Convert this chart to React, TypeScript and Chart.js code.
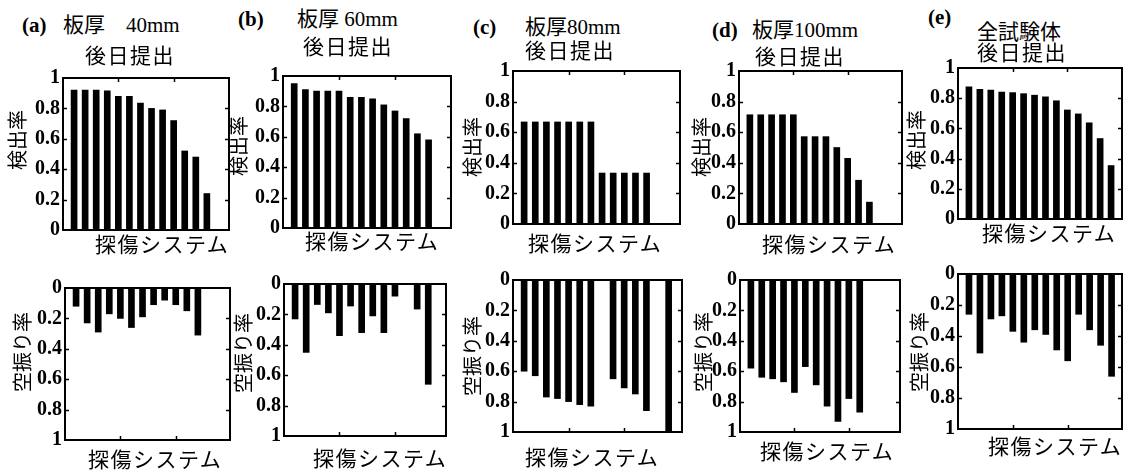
import React, { useEffect, useRef } from 'react';
import { Chart, registerables } from 'chart.js';
Chart.register(...registerables);

// ---- data ----
const Y_TICKS = [0, 0.2, 0.4, 0.6, 0.8, 1];
const X_TICKS = [5, 10];

const detA = [0.92, 0.92, 0.92, 0.915, 0.88, 0.88, 0.835, 0.8, 0.79, 0.72, 0.52, 0.48, 0.24];
const detB = [0.95, 0.91, 0.9, 0.9, 0.9, 0.86, 0.86, 0.85, 0.81, 0.77, 0.72, 0.62, 0.58];
const detC = [0.667, 0.667, 0.667, 0.667, 0.667, 0.667, 0.667, 0.333, 0.333, 0.333, 0.333, 0.333];
const detD = [0.714, 0.714, 0.714, 0.714, 0.714, 0.571, 0.571, 0.571, 0.5, 0.429, 0.286, 0.143];
const detE = [0.876, 0.859, 0.854, 0.841, 0.837, 0.83, 0.82, 0.809, 0.783, 0.722, 0.696, 0.637, 0.533, 0.354];

const faA = [0.12, 0.23, 0.29, 0.17, 0.2, 0.26, 0.19, 0.11, 0.08, 0.11, 0.15, 0.31];
const faB = [0.23, 0.45, 0.135, 0.19, 0.34, 0.145, 0.32, 0.21, 0.32, 0.08, 0, 0.165, 0.66];
const faC = [0.6, 0.63, 0.77, 0.78, 0.8, 0.82, 0.83, 0, 0.65, 0.71, 0.75, 0.86, 0, 1.0];
const faD = [0.58, 0.64, 0.65, 0.67, 0.74, 0.57, 0.69, 0.83, 0.93, 0.78, 0.87];
const faE = [0.26, 0.51, 0.29, 0.27, 0.37, 0.44, 0.36, 0.39, 0.49, 0.56, 0.26, 0.36, 0.46, 0.66];

const panelLetters = ['(a)', '(b)', '(c)', '(d)', '(e)'];
const panelTitles = ['板厚　40mm', '板厚 60mm', '板厚80mm', '板厚100mm', '全試験体'];
const subTitle = '後日提出';
const xTitle = '探傷システム';
const yTitleTop = '検出率';
const yTitleBottom = '空振り率';

// ---- layout ----
type Box = { l: number; r: number; t: number; b: number; xMax: number };
const topBoxes: Box[] = [
  { l: 63, r: 229, t: 77, b: 231, xMax: 15 },
  { l: 283, r: 451, t: 75, b: 229, xMax: 15 },
  { l: 513, r: 680, t: 70, b: 225, xMax: 15 },
  { l: 739, r: 902, t: 70, b: 225, xMax: 15 },
  { l: 958, r: 1122, t: 67, b: 220, xMax: 15 },
];
const bottomBoxes: Box[] = [
  { l: 65, r: 230, t: 287, b: 441, xMax: 14.9 },
  { l: 284, r: 446, t: 283, b: 437, xMax: 14.6 },
  { l: 513, r: 682, t: 279, b: 433, xMax: 15.2 },
  { l: 740, r: 900, t: 279, b: 433, xMax: 14.7 },
  { l: 958, r: 1122, t: 273, b: 430, xMax: 14.95 },
];

const letterPos = [[22, 25], [238, 19], [473, 27], [712, 30], [928, 17]];
const titlePos = [[63, 25], [297, 19], [525, 27], [752, 30], [977, 32]];
const subPos = [[85, 54], [303, 45], [525, 49], [755, 55], [977, 51]];
const xTitleTopPos = [[95, 243], [305, 240], [528, 242], [762, 243], [982, 232]];
const xTitleBottomPos = [[88, 458], [313, 457], [525, 456], [760, 450], [988, 445]];
const yTitleTopPos = [[17, 140], [238, 146], [472, 147], [701, 147], [916, 140]];
const yTitleBottomPos = [[22, 352], [243, 353], [472, 356], [703, 352], [919, 352]];

const framePlugin = {
  id: 'frame',
  afterDatasetsDraw(chart: any) {
    const { ctx, chartArea, scales } = chart;
    const { left, right, top, bottom } = chartArea;
    const x = scales.x;
    const y = scales.y;
    ctx.save();
    ctx.strokeStyle = '#000';
    ctx.lineWidth = 1.5;
    ctx.beginPath();
    Y_TICKS.slice(1, -1).forEach((v) => {
      const py = Math.round(y.getPixelForValue(v)) + 0.5;
      ctx.moveTo(left, py);
      ctx.lineTo(left + 4, py);
      ctx.moveTo(right, py);
      ctx.lineTo(right - 4, py);
    });
    X_TICKS.forEach((v) => {
      const px = Math.round(x.getPixelForValue(v)) + 0.5;
      ctx.moveTo(px, top);
      ctx.lineTo(px, top + 4);
      ctx.moveTo(px, bottom);
      ctx.lineTo(px, bottom - 4);
    });
    ctx.stroke();
    ctx.lineWidth = 2;
    ctx.strokeRect(left, top, right - left, bottom - top);
    ctx.restore();
  },
};

const YW = 44;
const PAD = 14;
const PR = 4;

function BarPanel({ values, reverse, box }: { values: number[]; reverse: boolean; box: Box }) {
  const ref = useRef<HTMLCanvasElement>(null);
  const w = box.r - box.l + YW + PR;
  const h = box.b - box.t + 2 * PAD;
  useEffect(() => {
    const chart = new Chart(ref.current as HTMLCanvasElement, {
      type: 'bar',
      data: {
        datasets: [
          {
            data: values.map((v, i) => ({ x: i + 1, y: v })),
            backgroundColor: '#000',
            borderWidth: 0,
            barThickness: 6,
          } as any,
        ],
      },
      options: {
        animation: false,
        responsive: false,
        devicePixelRatio: 1,
        layout: { padding: { top: PAD, bottom: PAD, left: 0, right: PR } },
        plugins: { legend: { display: false }, tooltip: { enabled: false }, title: { display: false } },
        scales: {
          x: { type: 'linear', min: 0, max: box.xMax, display: false, offset: false, grid: { display: false } },
          y: {
            min: 0,
            max: 1,
            reverse,
            afterFit: (s: any) => {
              s.width = YW;
            },
            afterBuildTicks: (s: any) => {
              s.ticks = Y_TICKS.map((v) => ({ value: v }));
            },
            grid: { display: false, drawTicks: false },
            border: { display: false },
            ticks: {
              padding: 3,
              color: '#000',
              font: { family: 'Liberation Serif', weight: 'bold', size: 20 },
              callback: (v: any) => String(Math.round(Number(v) * 10) / 10),
            },
          },
        },
      } as any,
      plugins: [framePlugin],
    });
    return () => chart.destroy();
  }, []);
  return (
    <canvas
      ref={ref}
      width={w}
      height={h}
      style={{ position: 'absolute', left: box.l - YW, top: box.t - PAD, width: w, height: h }}
    />
  );
}

function Txt({ x, cy, size, children, family, spacing, bold }: any) {
  return (
    <div
      style={{
        position: 'absolute',
        left: x,
        top: cy - size / 2,
        fontSize: size,
        lineHeight: 1,
        whiteSpace: 'nowrap',
        fontFamily: family || '"Liberation Serif", "Noto Sans CJK JP", serif',
        letterSpacing: spacing || 0,
        fontWeight: bold ? 'bold' : 'normal',
        color: '#000',
        zIndex: 2,
      }}
    >
      {children}
    </div>
  );
}

function VTxt({ cx, cy, size, children }: any) {
  return (
    <div
      style={{
        position: 'absolute',
        left: cx,
        top: cy,
        fontSize: size,
        lineHeight: 1,
        whiteSpace: 'nowrap',
        fontFamily: '"Noto Sans CJK JP", sans-serif',
        transform: 'translate(-50%, -50%) rotate(-90deg)',
        color: '#000',
        zIndex: 2,
      }}
    >
      {children}
    </div>
  );
}

export default function App() {
  const dets = [detA, detB, detC, detD, detE];
  const fas = [faA, faB, faC, faD, faE];
  return (
    <div
      style={{
        position: 'absolute',
        left: 0,
        top: 0,
        width: 1133,
        height: 472,
        background: '#fff',
        overflow: 'hidden',
      }}
    >
      {dets.map((d, i) => (
        <BarPanel key={'t' + i} values={d} reverse={false} box={topBoxes[i]} />
      ))}
      {fas.map((d, i) => (
        <BarPanel key={'b' + i} values={d} reverse={true} box={bottomBoxes[i]} />
      ))}
      {panelLetters.map((s, i) => (
        <Txt key={'l' + i} x={letterPos[i][0]} cy={letterPos[i][1]} size={21} bold>
          {s}
        </Txt>
      ))}
      {panelTitles.map((s, i) => (
        <Txt key={'ti' + i} x={titlePos[i][0]} cy={titlePos[i][1]} size={21}>
          {s}
        </Txt>
      ))}
      {subPos.map((p, i) => (
        <Txt key={'s' + i} x={p[0]} cy={p[1]} size={21} spacing={1.5} family='"Noto Sans CJK JP", sans-serif'>
          {subTitle}
        </Txt>
      ))}
      {xTitleTopPos.map((p, i) => (
        <Txt key={'xt' + i} x={p[0]} cy={p[1]} size={21} spacing={1.5} family='"Noto Sans CJK JP", sans-serif'>
          {xTitle}
        </Txt>
      ))}
      {xTitleBottomPos.map((p, i) => (
        <Txt key={'xb' + i} x={p[0]} cy={p[1]} size={21} spacing={1.5} family='"Noto Sans CJK JP", sans-serif'>
          {xTitle}
        </Txt>
      ))}
      {yTitleTopPos.map((p, i) => (
        <VTxt key={'yt' + i} cx={p[0]} cy={p[1]} size={20}>
          {yTitleTop}
        </VTxt>
      ))}
      {yTitleBottomPos.map((p, i) => (
        <VTxt key={'yb' + i} cx={p[0]} cy={p[1]} size={20}>
          {yTitleBottom}
        </VTxt>
      ))}
    </div>
  );
}
